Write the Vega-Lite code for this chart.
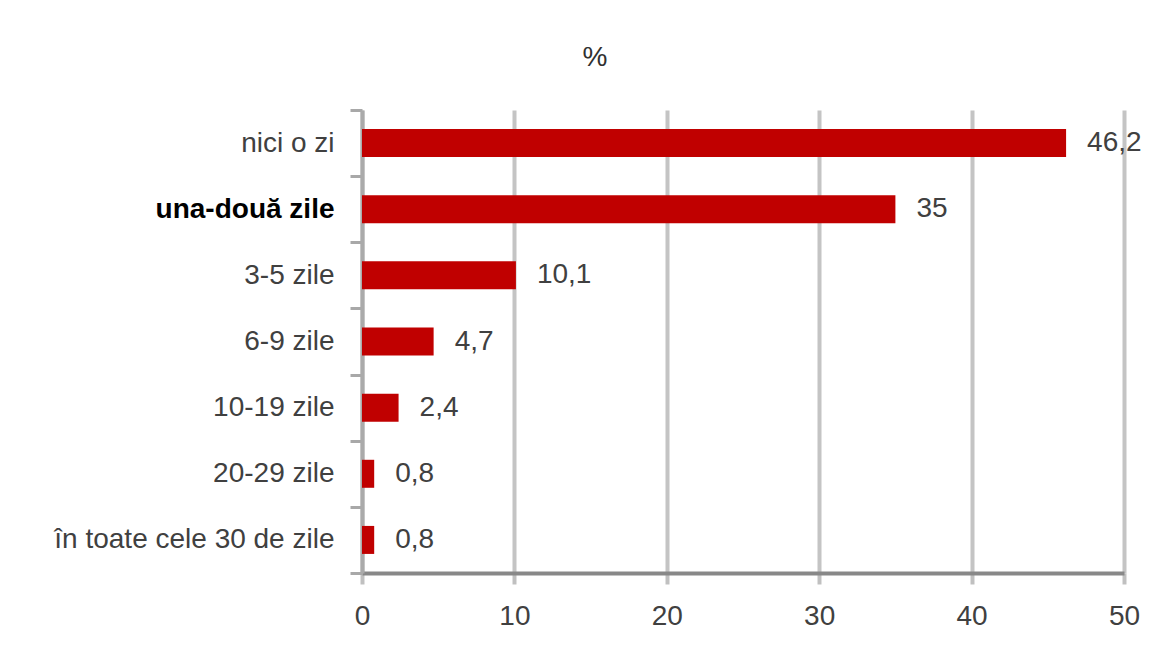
{
  "$schema": "https://vega.github.io/schema/vega-lite/v6.json",
  "width": 762,
  "height": 463,
  "autosize": {"type": "none"},
  "padding": {"left": 362, "top": 110, "right": 49, "bottom": 81},
  "background": "white",
  "title": {"text": "%", "anchor": "middle", "frame": "group", "dx": -148, "offset": 24, "fontSize": 28, "font": "Liberation Sans", "fontWeight": "normal", "color": "#303030"},
  "data": {"values": [
    {"cat": "nici o zi", "value": 46.2, "label": "46,2"},
    {"cat": "una-două zile", "value": 35, "label": "35"},
    {"cat": "3-5 zile", "value": 10.1, "label": "10,1"},
    {"cat": "6-9 zile", "value": 4.7, "label": "4,7"},
    {"cat": "10-19 zile", "value": 2.4, "label": "2,4"},
    {"cat": "20-29 zile", "value": 0.8, "label": "0,8"},
    {"cat": "în toate cele 30 de zile", "value": 0.8, "label": "0,8"}
  ]},
  "encoding": {
    "y": {
      "field": "cat", "type": "nominal", "sort": null,
      "scale": {"paddingInner": 0, "paddingOuter": 0},
      "axis": {
        "title": null, "grid": false, "tickBand": "extent",
        "domainColor": "#aaaaaa", "domainWidth": 4,
        "tickColor": "#a8a8a8", "tickWidth": 3, "tickSize": 12,
        "labelFont": "Liberation Sans", "labelFontSize": 28, "labelPadding": 16, "labelLimit": 0,
        "labelColor": {"condition": {"test": "datum.value === 'una-două zile'", "value": "#000000"}, "value": "#404040"},
        "labelFontWeight": {"condition": {"test": "datum.value === 'una-două zile'", "value": "bold"}, "value": "normal"}
      }
    }
  },
  "layer": [
    {
      "mark": {"type": "bar", "color": "#C00000", "size": 28},
      "encoding": {
        "x": {
          "field": "value", "type": "quantitative",
          "scale": {"domain": [0, 50], "nice": false},
          "axis": {
            "title": null, "values": [0, 10, 20, 30, 40, 50], "labelFlush": false,
            "domainColor": "#888888", "domainWidth": 4,
            "tickColor": "#c0c0c0", "tickWidth": 4, "tickSize": 11,
            "gridColor": "#c4c4c4", "gridWidth": 4,
            "labelFont": "Liberation Sans", "labelFontSize": 28, "labelColor": "#404040", "labelPadding": 18
          }
        }
      }
    },
    {
      "mark": {"type": "text", "align": "left", "baseline": "middle", "dx": 21, "font": "Liberation Sans", "fontSize": 28, "color": "#404040"},
      "encoding": {
        "x": {"field": "value", "type": "quantitative"},
        "text": {"field": "label"}
      }
    }
  ],
  "config": {"view": {"stroke": null}}
}
